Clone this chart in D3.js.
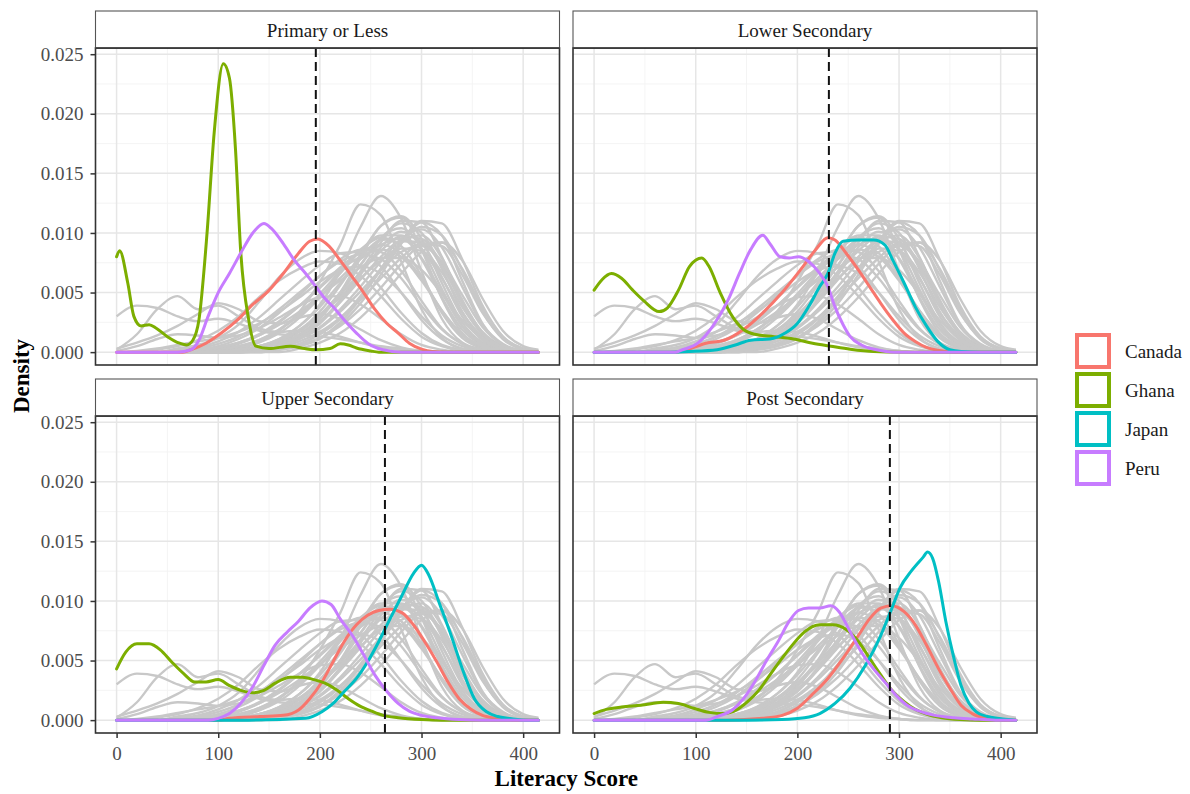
<!DOCTYPE html>
<html><head><meta charset="utf-8">
<script src="https://cdn.jsdelivr.net/npm/d3@7"></script>
<style>body{margin:0;background:#fff}svg{display:block}</style>
</head><body>
<svg id="chart" width="1190" height="794"></svg>
<script>
// ---------------- DATA (density values in units of 0.001) ----------------
const facets = ["Primary or Less", "Lower Secondary", "Upper Secondary", "Post Secondary"];
const countries = ["Canada", "Ghana", "Japan", "Peru"];
const countryColors = ["#F8766D", "#7CAE00", "#00BFC4", "#C77CFF"];
const xTicks = [0, 100, 200, 300, 400];
const xMinor = [50, 150, 250, 350];
const yTicks = [0, 5, 10, 15, 20, 25];          // ×0.001
const yMinor = [2.5, 7.5, 12.5, 17.5, 22.5];
const meanLines = [196, 231, 264, 291];         // dashed reference per facet

// background (grey) curves: all countries, sampled on a common score grid
const grayX = [0,20,40,60,80,100,120,140,160,180,200,220,240,260,280,300,320,340,360,380,400,415];
const grayCurves = [
  [0,0,0,0,0,0.1,0.2,0.5,1.1,2.2,4.0,6.8,10.5,13.1,11.2,6.8,2.8,0.8,0.2,0,0,0],
  [0,0,0,0,0.1,0.2,0.4,0.9,1.8,3.4,5.9,9.0,12.4,11.5,7.6,3.6,1.2,0.3,0.1,0,0,0],
  [0,0,0,0,0,0,0.1,0.3,0.8,1.8,3.4,5.6,8.2,10.6,11.4,9.5,5.8,2.5,0.8,0.2,0,0],
  [0,0,0,0,0,0,0,0.2,0.5,1.2,2.5,4.4,6.8,9.2,11.0,10.9,8.0,4.2,1.5,0.4,0.1,0],
  [0,0,0,0,0,0,0,0.1,0.3,0.7,1.5,2.8,4.6,6.9,9.3,11.0,10.8,7.8,3.9,1.3,0.3,0.1],
  [0,0,0,0,0,0,0.1,0.3,0.8,1.7,3.1,5.0,7.3,9.5,10.8,10.0,7.0,3.4,1.1,0.3,0,0],
  [0,0,0,0,0,0,0,0.2,0.5,1.1,2.1,3.6,5.5,7.6,9.5,10.3,8.8,5.5,2.3,0.7,0.1,0],
  [0,0,0,0,0,0.1,0.3,0.8,1.6,2.9,4.6,6.6,8.5,9.8,9.8,7.8,4.6,1.9,0.6,0.1,0,0],
  [0,0,0,0,0,0,0.1,0.4,0.9,1.8,3.1,4.8,6.7,8.5,9.7,9.5,7.4,4.2,1.7,0.5,0.1,0],
  [0,0,0,0,0.1,0.2,0.5,1.0,1.9,3.1,4.6,6.2,7.8,9.0,9.5,8.6,6.2,3.3,1.3,0.4,0.1,0],
  [0,0,0,0,0,0,0,0.2,0.4,0.9,1.7,2.9,4.4,6.2,7.9,9.1,8.9,6.5,3.3,1.2,0.3,0.1],
  [0,0,0,0,0.1,0.3,0.7,1.4,2.5,3.9,5.5,7.1,8.4,9.0,8.3,6.2,3.5,1.4,0.4,0.1,0,0],
  [0,0,0,0,0.2,0.5,1.1,2.0,3.3,4.8,6.4,7.8,8.6,8.4,6.8,4.3,2.0,0.7,0.2,0,0,0],
  [0,0,0,0.2,0.4,0.9,1.7,2.9,4.4,5.9,7.3,8.3,8.4,7.2,5.0,2.7,1.1,0.3,0.1,0,0,0],
  [0,0,0,0.3,0.6,1.2,2.3,4.2,6.3,7.8,8.5,8.3,7.2,5.4,3.3,1.6,0.6,0.2,0,0,0,0],
  [0,0,0.2,0.5,1.0,1.8,3.0,4.6,6.0,7.0,7.6,7.4,6.4,4.7,2.8,1.3,0.5,0.1,0,0,0,0],
  [3.0,3.9,3.7,3.0,2.6,2.8,2.4,1.8,1.5,1.4,1.3,1.1,0.8,0.5,0.3,0.1,0,0,0,0,0,0],
  [0.2,1.5,3.6,4.7,3.6,3.9,3.0,2.0,1.7,1.8,1.7,1.3,0.8,0.4,0.2,0.1,0,0,0,0,0,0],
  [0.3,0.8,1.4,2.2,3.2,4.1,3.6,2.6,2.4,2.9,3.2,2.8,1.9,1.0,0.4,0.1,0,0,0,0,0,0],
  [0.1,0.5,1.1,1.5,1.4,1.2,1.4,2.0,2.9,3.9,4.6,4.7,4.0,2.8,1.5,0.6,0.2,0,0,0,0,0],
  [0,0.1,0.3,0.6,0.9,1.2,1.7,2.4,3.4,4.6,5.9,6.9,7.2,6.6,5.0,3.0,1.4,0.5,0.1,0,0,0],
  [0,0,0,0,0,0,0.1,0.3,0.7,1.5,2.9,4.9,7.3,9.6,10.4,8.7,5.3,2.2,0.7,0.1,0,0],
  [0,0,0,0,0,0,0,0,0.2,0.5,1.2,2.5,4.5,7.0,9.2,9.8,7.9,4.4,1.6,0.4,0,0],
  [0,0,0,0,0,0,0,0,0.3,0.6,1.2,2.2,3.6,5.4,7.4,9.0,9.2,7.0,3.7,1.3,0.3,0.1],
  [0,0,0,0,0,0.2,0.5,1.0,1.9,3.2,4.9,6.8,8.6,9.6,8.9,6.4,3.3,1.2,0.3,0,0,0],
  [0,0,0,0,0,0,0.2,0.5,1.0,1.9,3.1,4.6,6.2,7.7,8.7,8.5,6.7,3.8,1.5,0.4,0.1,0],
  [0,0,0,0,0,0,0,0,0.2,0.5,1.1,2.3,4.1,6.5,9.1,10.9,9.8,6.0,2.4,0.6,0.1,0],
  [0,0,0,0,0,0,0,0.2,0.6,1.4,2.8,5.0,7.9,10.6,11.3,8.6,4.5,1.6,0.4,0.1,0,0],
  [0,0,0,0.1,0.3,0.7,1.3,2.3,3.6,5.0,6.4,7.6,8.2,7.8,6.2,3.9,1.9,0.7,0.2,0,0,0],
  [0,0,0,0,0,0,0,0,0,0.3,0.8,1.6,2.9,4.6,6.6,8.4,9.2,7.7,4.5,1.8,0.5,0.2],
  [0,0,0,0,0,0,0.1,0.3,0.7,1.4,2.6,4.2,6.1,8.0,9.3,9.2,7.2,4.1,1.6,0.4,0.1,0],
  [0,0,0,0,0,0,0.1,0.2,0.5,1.1,2.0,3.4,5.1,6.9,8.4,8.9,7.6,4.8,2.1,0.6,0.1,0],
  [0,0,0,0,0,0,0,0.2,0.5,1.2,2.4,4.2,6.5,8.8,10.1,9.2,6.3,3.0,1.0,0.2,0,0],
  [0,0,0,0,0,0.1,0.2,0.5,1.1,2.2,3.8,5.8,7.9,9.4,9.5,7.9,5.0,2.2,0.7,0.1,0,0],
  [0,0,0,0.1,0.2,0.4,0.8,1.4,2.3,3.4,4.7,6.0,7.1,7.9,7.9,6.9,4.9,2.7,1.1,0.3,0.1,0],
  [0,0,0,0,0,0,0,0.1,0.3,0.7,1.5,2.8,4.7,7.0,9.2,10.5,9.8,6.9,3.4,1.1,0.2,0],
  [0,0,0,0.1,0.2,0.4,0.8,1.5,2.6,3.9,5.4,6.9,8.0,8.6,8.0,6.0,3.5,1.5,0.5,0.1,0,0]
];

// highlighted countries: [score, density×1000]
const canadaPrimary = [[0,0],[65,0],[73,0.2],[88,0.75],[103,1.6],[119,2.7],[134,4.0],[149,5.1],[164,6.6],[179,8.3],[190,9.3],[198,9.5],[209,8.9],[220,7.7],[232,6.3],[243,5.0],[254,3.6],[266,2.4],[277,1.6],[288,0.75],[300,0.25],[311,0.05],[325,0],[415,0]];
const ghanaPrimary = [[0,8.0],[3,8.5],[11,5.8],[17,3.0],[24,2.2],[32,2.3],[39,2.0],[50,1.3],[62,0.75],[69,0.6],[75,1.0],[81,2.7],[89,10],[96,18.4],[105,24.2],[111,23],[117,17],[122,8.6],[130,2.7],[137,0.5],[150,0.3],[171,0.5],[185,0.3],[196,0.2],[210,0.3],[220,0.7],[228,0.6],[236,0.35],[250,0.1],[258,0],[415,0]];
const peruPrimary = [[0,0],[60,0],[73,0.2],[81,1.0],[90,3.0],[100,5.0],[111,6.6],[122,8.3],[134,10.0],[145,10.8],[152,10.4],[164,9.1],[175,7.7],[186,6.6],[196,5.5],[205,4.5],[213,3.8],[224,2.7],[236,1.6],[247,0.75],[262,0.2],[280,0],[415,0]];

const canadaLower = [[0,0],[80,0],[91,0.2],[110,0.75],[128,1.0],[147,1.9],[166,3.3],[185,5.0],[203,6.9],[218,8.6],[230,9.6],[237,9.4],[248,8.3],[260,6.9],[271,5.5],[282,4.1],[294,2.7],[305,1.6],[316,0.9],[327,0.4],[338,0.15],[355,0],[415,0]];
const ghanaLower = [[0,5.2],[8,6.1],[17,6.6],[27,6.2],[38,5.2],[49,4.3],[64,3.4],[72,3.7],[83,5.2],[94,7.2],[106,7.9],[113,7.2],[124,5.0],[136,3.0],[147,1.9],[158,1.5],[177,1.3],[196,1.1],[215,0.75],[233,0.5],[252,0.25],[275,0.05],[300,0],[415,0]];
const japanLower = [[0,0],[75,0],[94,0.05],[121,0.2],[139,0.6],[154,1.0],[173,1.1],[188,1.6],[200,2.4],[211,3.8],[222,5.5],[230,6.6],[237,8.3],[245,9.3],[260,9.4],[275,9.4],[286,9.0],[294,7.7],[305,5.8],[316,3.8],[327,2.2],[338,0.9],[350,0.2],[361,0.05],[380,0],[415,0]];
const peruLower = [[0,0],[80,0],[87,0.2],[102,0.75],[117,2.2],[132,4.4],[143,6.6],[154,8.6],[166,9.8],[173,9.1],[183,8.0],[192,7.9],[201,8.0],[211,7.6],[222,6.6],[230,5.5],[237,3.8],[245,2.3],[252,1.3],[263,0.6],[278,0.2],[295,0],[415,0]];

const canadaUpper = [[0,0],[100,0],[111,0.15],[141,0.3],[164,0.4],[179,0.85],[190,1.8],[202,3.2],[213,4.9],[224,6.6],[236,8.0],[247,8.8],[258,9.2],[269,9.3],[281,9.0],[292,8.0],[303,6.6],[315,4.9],[326,3.2],[337,1.8],[349,0.9],[360,0.4],[375,0.15],[395,0],[415,0]];
const ghanaUpper = [[0,4.3],[9,5.7],[20,6.4],[32,6.4],[43,5.9],[54,4.9],[66,3.9],[77,3.2],[88,3.2],[100,3.4],[111,2.9],[122,2.5],[134,2.3],[145,2.5],[156,3.1],[171,3.6],[183,3.6],[194,3.4],[205,3.1],[217,2.5],[228,1.8],[239,1.2],[251,0.75],[262,0.4],[277,0.2],[300,0.05],[320,0],[415,0]];
const japanUpper = [[0,0],[130,0],[186,0.15],[202,0.7],[213,1.4],[224,2.4],[236,3.5],[247,4.9],[258,6.6],[269,8.5],[281,10.5],[292,12.3],[300,13.0],[307,12.2],[318,9.7],[330,6.9],[341,4.1],[352,1.8],[364,0.7],[375,0.3],[390,0.1],[405,0],[415,0]];
const peruUpper = [[0,0],[90,0],[100,0.15],[111,0.55],[122,1.4],[134,2.8],[145,4.6],[156,6.3],[168,7.4],[179,8.3],[190,9.4],[202,10.0],[211,9.7],[220,8.5],[232,7.1],[243,5.5],[254,3.8],[266,2.4],[277,1.4],[288,0.75],[300,0.4],[315,0.2],[337,0.05],[360,0],[415,0]];

const canadaPost = [[0,0],[130,0],[166,0.15],[185,0.4],[200,1.0],[214,2.1],[230,3.5],[245,5.2],[260,7.1],[271,8.5],[282,9.4],[293,9.6],[305,9.1],[316,8.0],[327,6.3],[339,4.3],[350,2.7],[361,1.25],[372,0.55],[387,0.15],[405,0],[415,0]];
const ghanaPost = [[0,0.55],[12,0.9],[27,1.1],[46,1.25],[68,1.5],[83,1.4],[98,1.0],[113,0.65],[128,0.55],[140,0.85],[151,1.55],[162,2.5],[173,3.8],[185,5.2],[196,6.4],[207,7.4],[222,8.0],[235,8.0],[248,7.6],[260,6.6],[271,5.2],[282,3.8],[293,2.5],[305,1.55],[316,0.9],[327,0.5],[342,0.2],[360,0.05],[380,0],[415,0]];
const japanPost = [[0,0],[150,0],[185,0.05],[207,0.2],[222,0.55],[237,1.4],[252,2.7],[267,4.6],[282,7.1],[293,9.4],[301,11.1],[312,12.5],[324,13.7],[328,14.1],[333,13.6],[339,11.6],[346,8.3],[354,5.2],[361,2.9],[369,1.4],[376,0.7],[387,0.3],[402,0.1],[415,0]];
const peruPost = [[0,0],[110,0],[121,0.3],[136,0.85],[147,1.8],[158,3.2],[169,4.9],[181,6.6],[192,8.3],[201,9.2],[211,9.4],[222,9.4],[233,9.6],[241,9.1],[252,7.4],[263,5.7],[275,4.3],[286,3.2],[297,2.1],[308,1.25],[320,0.75],[335,0.4],[354,0.2],[372,0.1],[395,0],[415,0]];

// table: facet index -> list of [countryIndex, data]
const highlighted = [
  [[0, canadaPrimary], [1, ghanaPrimary], [3, peruPrimary]],
  [[0, canadaLower], [1, ghanaLower], [2, japanLower], [3, peruLower]],
  [[0, canadaUpper], [1, ghanaUpper], [2, japanUpper], [3, peruUpper]],
  [[0, canadaPost], [1, ghanaPost], [2, japanPost], [3, peruPost]]
];

// ---------------- LAYOUT ----------------
const FONT = "'Liberation Serif','Times New Roman',serif";
const PW = 464, PH = 317, SH = 37;
const colX = [95.5, 573];
const rowStripY = [11, 379];
const svg = d3.select("#chart").style("font-family", FONT);

const x = d3.scaleLinear().domain([-20.75, 435.75]).range([0, PW]);
const y = d3.scaleLinear().domain([-1.08, 25.52]).range([PH, 0]);
const line = d3.line().x(d => x(d[0])).y(d => y(d[1])).curve(d3.curveMonotoneX);
const grayLine = d3.line().x((d, i) => x(grayX[i])).y(d => y(d)).curve(d3.curveMonotoneX);

facets.forEach((name, fi) => {
  const col = fi % 2, row = Math.floor(fi / 2);
  const px = colX[col], sy = rowStripY[row], py = sy + SH;
  const g = svg.append("g").attr("transform", `translate(${px},${py})`);

  g.append("rect").attr("width", PW).attr("height", PH).attr("fill", "#fff");
  g.selectAll(".mx").data(xMinor).join("line")
    .attr("x1", d => x(d)).attr("x2", d => x(d)).attr("y1", 0).attr("y2", PH)
    .attr("stroke", "#f3f3f3").attr("stroke-width", 0.9);
  g.selectAll(".my").data(yMinor).join("line")
    .attr("y1", d => y(d)).attr("y2", d => y(d)).attr("x1", 0).attr("x2", PW)
    .attr("stroke", "#f3f3f3").attr("stroke-width", 0.9);
  g.selectAll(".gx").data(xTicks).join("line")
    .attr("x1", d => x(d)).attr("x2", d => x(d)).attr("y1", 0).attr("y2", PH)
    .attr("stroke", "#e6e6e6").attr("stroke-width", 1.5);
  g.selectAll(".gy").data(yTicks).join("line")
    .attr("y1", d => y(d)).attr("y2", d => y(d)).attr("x1", 0).attr("x2", PW)
    .attr("stroke", "#e6e6e6").attr("stroke-width", 1.5);

  const lines = g.append("g");
  lines.selectAll(".grey").data(grayCurves).join("path")
    .attr("d", grayLine).attr("fill", "none")
    .attr("stroke", "#c8c8c8").attr("stroke-width", 2.4).attr("stroke-linejoin", "round");

  lines.selectAll(".hl").data(highlighted[fi]).join("path")
    .attr("d", d => line(d[1])).attr("fill", "none")
    .attr("stroke", d => countryColors[d[0]]).attr("stroke-width", 3)
    .attr("stroke-linejoin", "round").attr("stroke-linecap", "round");

  g.append("line").attr("x1", x(meanLines[fi])).attr("x2", x(meanLines[fi]))
    .attr("y1", 0).attr("y2", PH).attr("stroke", "#111").attr("stroke-width", 2)
    .attr("stroke-dasharray", "9,5");

  g.append("rect").attr("width", PW).attr("height", PH).attr("fill", "none")
    .attr("stroke", "#333").attr("stroke-width", 1.6);

  // strip
  svg.append("rect").attr("x", px).attr("y", sy).attr("width", PW).attr("height", SH)
    .attr("fill", "#fff").attr("stroke", "#555").attr("stroke-width", 1.1);
  svg.append("line").attr("x1", px).attr("x2", px + PW).attr("y1", py).attr("y2", py)
    .attr("stroke", "#333").attr("stroke-width", 1.6);
  svg.append("text").attr("x", px + PW / 2).attr("y", sy + 25.5)
    .attr("text-anchor", "middle").attr("font-size", 19).attr("fill", "#1a1a1a").text(name);

  if (col === 0) {
    const ay = g.append("g").call(d3.axisLeft(y).tickValues(yTicks)
      .tickFormat(d => (d / 1000).toFixed(3)).tickSize(5).tickPadding(7));
    ay.select(".domain").remove();
    ay.selectAll("line").attr("stroke", "#333").attr("stroke-width", 1.5);
    ay.selectAll("text").attr("font-family", FONT).attr("font-size", 19).attr("fill", "#4d4d4d");
  }
  if (row === 1) {
    const ax = g.append("g").attr("transform", `translate(0,${PH})`)
      .call(d3.axisBottom(x).tickValues(xTicks).tickSize(5).tickPadding(9));
    ax.select(".domain").remove();
    ax.selectAll("line").attr("stroke", "#333").attr("stroke-width", 1.5);
    ax.selectAll("text").attr("font-family", FONT).attr("font-size", 19).attr("fill", "#4d4d4d");
  }
});

svg.append("text").attr("x", (colX[0] + colX[1] + PW) / 2).attr("y", 786)
  .attr("text-anchor", "middle").attr("font-size", 23).attr("font-weight", "bold").text("Literacy Score");
svg.append("text").attr("transform", "translate(29,376) rotate(-90)")
  .attr("text-anchor", "middle").attr("font-size", 23).attr("font-weight", "bold").text("Density");

const lg = svg.append("g").attr("transform", "translate(1075,333)");
countries.forEach((c, i) => {
  const gy = i * 39;
  lg.append("rect").attr("x", 2).attr("y", gy + 2).attr("width", 32).attr("height", 32)
    .attr("fill", "#fff").attr("stroke", countryColors[i]).attr("stroke-width", 4);
  lg.append("text").attr("x", 50).attr("y", gy + 25).attr("font-size", 19).attr("fill", "#1a1a1a").text(c);
});
</script>
</body></html>
